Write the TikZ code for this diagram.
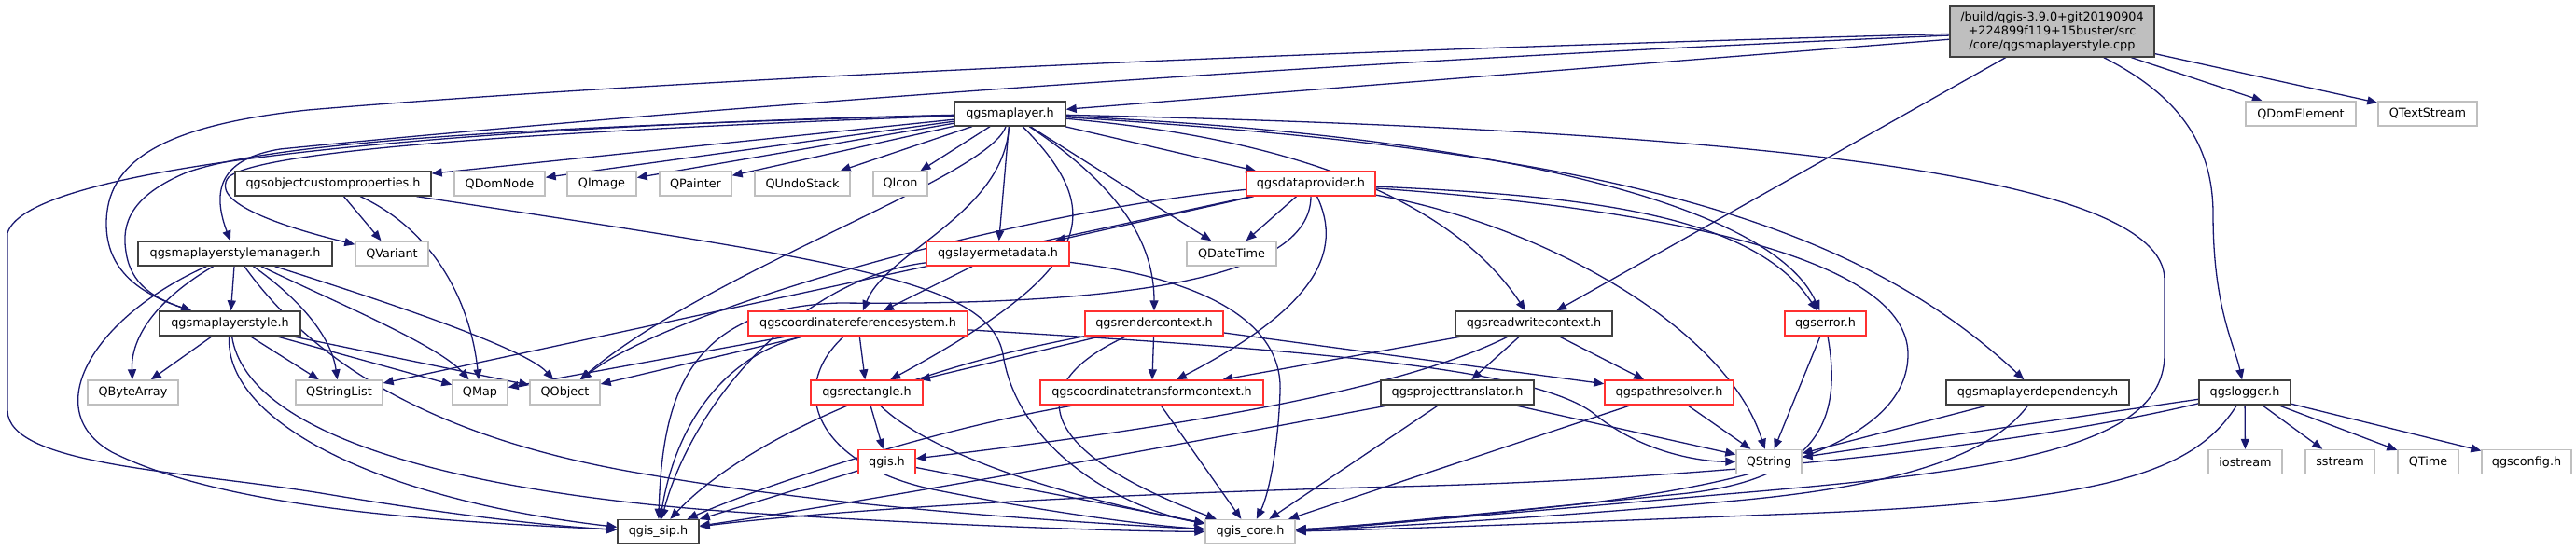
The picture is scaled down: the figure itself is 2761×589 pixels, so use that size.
\documentclass[tikz,border=0pt]{standalone}
\usepackage{fontspec}
\setmainfont{DejaVu Sans}
\usetikzlibrary{arrows.meta,backgrounds}
\definecolor{dxEdge}{HTML}{191970}
\definecolor{dxRed}{HTML}{FF3030}
\definecolor{dxGrey}{HTML}{BFBFBF}
\definecolor{dxDark}{HTML}{404040}
\newcommand{\dxfont}{\fontsize{12.8pt}{15pt}\selectfont}
\tikzset{
  >={Triangle[length=11pt,width=9pt]},
  file/.style={draw, line width=1.4pt, fill=white, inner sep=0pt,
              minimum height=26, font=\dxfont},
  hdr/.style={file, draw=dxDark},
  trunc/.style={file, draw=dxRed},
  ext/.style={file, draw=dxGrey},
  rootfile/.style={file, draw=dxDark, fill=dxGrey, minimum height=55, align=center},
  inc/.style={->, draw=dxEdge, line width=1.3pt},
}

\begin{document}
\begin{tikzpicture}[x=1pt,y=-1pt]
  \useasboundingbox (0,0) rectangle (2761,589);
  % the source file
  \node[rootfile,minimum width=219] (root) at (2199.5,33.5)
    {/build/qgis-3.9.0+git20190904\\+224899f119+15buster/src\\/core/qgsmaplayerstyle.cpp};
  % documented headers
  \foreach \n/\x/\y/\w/\t in {ml/1082.5/122/119/qgsmaplayer.h,
      ocp/357/197/210/qgsobjectcustomproperties.h,
      msm/252/272/208/qgsmaplayerstylemanager.h,
      mls/246.5/347/151/qgsmaplayerstyle.h,
      rwc/1644/347/168/qgsreadwritecontext.h,
      pt/1562/421/164/qgsprojecttranslator.h,
      mld/2184/421/196/qgsmaplayerdependency.h,
      log/2406/421/98/qgslogger.h,
      sip/705.5/570.5/87/qgis\_sip.h}{
    \node[hdr,minimum width=\w] (\n) at (\x,\y) {\t};}
  % truncated headers
  \foreach \n/\x/\y/\w/\t in {dp/1405/197/138/qgsdataprovider.h,
      lmd/1069.5/272/153/qgslayermetadata.h,
      crs/919.5/347/235/qgscoordinatereferencesystem.h,
      rc/1237/347/148/qgsrendercontext.h,
      err/1956.5/347/87/qgserror.h,
      rect/929/421/120/qgsrectangle.h,
      ctc/1234.5/421/239/qgscoordinatetransformcontext.h,
      pr/1789/421/138/qgspathresolver.h,
      qgis/950.5/495.5/61/qgis.h}{
    \node[trunc,minimum width=\w] (\n) at (\x,\y) {\t};}
  % system and Qt headers
  \foreach \n/\x/\y/\w/\t in {qde/2466/122/118/QDomElement,
      qts/2602/122/106/QTextStream,
      qdn/535.5/197/97/QDomNode, qim/645/197/74/QImage,
      qpa/745.5/197/77/QPainter, qus/860/197/102/QUndoStack,
      qic/965/197/58/QIcon, qva/420/272/78/QVariant,
      qdt/1320/272/96/QDateTime, qba/142.5/421/97/QByteArray,
      qsl/363.5/421/93/QStringList, qmap/514.5/421/59/QMap,
      qob/605.5/421/75/QObject, qstr/1896/495.5/70/QString,
      ios/2406.5/495.5/79/iostream, sst/2508/495.5/74/sstream,
      qti/2602.5/495.5/65/QTime, cfg/2708/495.5/96/qgsconfig.h,
      core/1340/570.5/96/qgis\_core.h}{
    \node[ext,minimum width=\w] (\n) at (\x,\y) {\t};}

  \begin{scope}[on background layer]
  % short includes
  \foreach \a/\b in {root/ml, root/rwc, root/qde, root/qts,
      ml/ocp, ml/qdn, ml/qim, ml/qpa, ml/qus, ml/qic, ml/dp, ml/lmd, ml/qdt,
      ocp/qva, msm/mls, mls/qba, mls/qsl, mls/qmap, mls/qob,
      dp/lmd, dp/qdt, dp/qsl, lmd/crs, crs/qmap, crs/qob, crs/rect,
      rc/rect, rc/ctc, rc/pr, rect/qgis, qgis/sip, qgis/core, ctc/core,
      rwc/ctc, rwc/pt, rwc/pr, pt/core, pt/qstr, pr/core, pr/qstr,
      err/qstr, mld/qstr, log/qstr, log/ios, log/sst, log/qti, log/cfg}{
    \draw[inc] (\a) -- (\b);}

  % long includes, routed by hand
  \draw[inc] (root) .. controls (1200,60) and (600,95) .. (330,118)
    .. controls (170,135) and (114,175) .. (114,240)
    .. controls (114,290) and (150,315) .. (mls);
  \draw[inc] (root) .. controls (1200,75) and (500,140) .. (300,160)
    .. controls (240,170) and (225,200) .. (msm);
  \draw[inc] (root) .. controls (2330,100) and (2372,150) .. (2372,230)
    .. controls (2372,330) and (2395,370) .. (log);
  \draw[inc] (ml) .. controls (600,140) and (280,160) .. (245,190)
    .. controls (225,215) and (290,240) .. (qva);
  \draw[inc] (ml) .. controls (600,135) and (300,150) .. (200,185)
    .. controls (140,210) and (130,240) .. (135,270)
    .. controls (140,305) and (165,320) .. (mls);
  \draw[inc] (ml) .. controls (500,135) and (30,175) .. (8,250) -- (8,440)
    .. controls (8,500) and (200,505) .. (350,530)
    .. controls (500,555) and (600,565) .. (sip);
  \draw[inc] (ml) .. controls (1060,190) and (760,290) .. (qob);
  \draw[inc] (ml) .. controls (1075,230) and (950,270) .. (crs);
  \draw[inc] (ml) .. controls (1190,230) and (1170,290) .. (rect);
  \draw[inc] (ml) .. controls (1200,200) and (1237,260) .. (rc);
  \draw[inc] (ml) .. controls (1400,150) and (1560,220) .. (rwc);
  \draw[inc] (ml) .. controls (1600,145) and (1900,220) .. (err);
  \draw[inc] (ml) .. controls (1700,160) and (1980,230) .. (mld);
  \draw[inc] (ml) .. controls (1900,140) and (2320,190) .. (2320,300) -- (2320,380)
    .. controls (2320,480) and (2150,505) .. (1850,530)
    .. controls (1600,552) and (1450,565) .. (core);
  \draw[inc] (ocp) .. controls (470,250) and (505,330) .. (qmap);
  \draw[inc] (ocp) .. controls (900,280) and (1060,300) .. (1075,380)
    .. controls (1090,480) and (1200,545) .. (core);
  \draw[inc] (msm) .. controls (170,320) and (140,360) .. (qba);
  \draw[inc] (msm) .. controls (320,320) and (355,360) .. (qsl);
  \draw[inc] (msm) .. controls (350,320) and (470,370) .. (qmap);
  \draw[inc] (msm) .. controls (370,310) and (560,370) .. (qob);
  \draw[inc] (msm) .. controls (100,340) and (40,440) .. (120,485)
    .. controls (250,550) and (500,560) .. (sip);
  \draw[inc] (msm) .. controls (330,380) and (450,470) .. (700,510)
    .. controls (900,545) and (1150,560) .. (core);
  \draw[inc] (mls) .. controls (240,450) and (400,535) .. (sip);
  \draw[inc] (mls) .. controls (265,470) and (500,530) .. (800,550)
    .. controls (1000,563) and (1200,570) .. (core);
  \draw[inc] (dp) .. controls (1100,225) and (720,330) .. (qob);
  \draw[inc] (dp) .. controls (1440,270) and (1410,330) .. (ctc);
  \draw[inc] (dp) .. controls (1405,300) and (1200,328) .. (900,325)
    .. controls (740,330) and (710,420) .. (sip);
  \draw[inc] (dp) .. controls (1700,210) and (1880,230) .. (err);
  \draw[inc] (dp) .. controls (1650,240) and (1850,350) .. (qstr);
  \draw[inc] (dp) .. controls (1800,225) and (2045,280) .. (2045,380)
    .. controls (2045,470) and (1900,515) .. (1700,540)
    .. controls (1550,556) and (1450,566) .. (core);
  \draw[inc] (lmd) .. controls (850,300) and (740,440) .. (sip);
  \draw[inc] (lmd) .. controls (1300,300) and (1375,350) .. (1372,420)
    .. controls (1370,480) and (1360,530) .. (core);
  \draw[inc] (crs) .. controls (780,380) and (725,450) .. (sip);
  \draw[inc] (crs) .. controls (840,420) and (880,500) .. (1000,525)
    .. controls (1150,555) and (1250,565) .. (core);
  \draw[inc] (crs) .. controls (1400,375) and (1650,395) .. (1710,445)
    .. controls (1760,485) and (1820,495) .. (qstr);
  \draw[inc] (rc) .. controls (950,400) and (790,480) .. (sip);
  \draw[inc] (rc) .. controls (1100,410) and (1100,480) .. (core);
  \draw[inc] (rect) .. controls (1000,490) and (1150,535) .. (core);
  \draw[inc] (ctc) .. controls (1000,460) and (820,520) .. (sip);
  \draw[inc] (rwc) .. controls (1500,420) and (1250,460) .. (qgis);
  \draw[inc] (pt) .. controls (1300,470) and (950,535) .. (sip);
  \draw[inc] (err) .. controls (1975,450) and (1950,515) .. (1800,530)
    .. controls (1600,550) and (1450,565) .. (core);
  \draw[inc] (mld) .. controls (2140,480) and (2060,520) .. (1850,538)
    .. controls (1650,556) and (1450,567) .. (core);
  \draw[inc] (log) .. controls (2200,470) and (1900,512) .. (1500,522)
    .. controls (1100,532) and (850,552) .. (sip);
  \draw[inc] (log) .. controls (2350,510) and (2250,540) .. (1900,552)
    .. controls (1650,562) and (1450,569) .. (core);
  \end{scope}
\end{tikzpicture}
\end{document}
